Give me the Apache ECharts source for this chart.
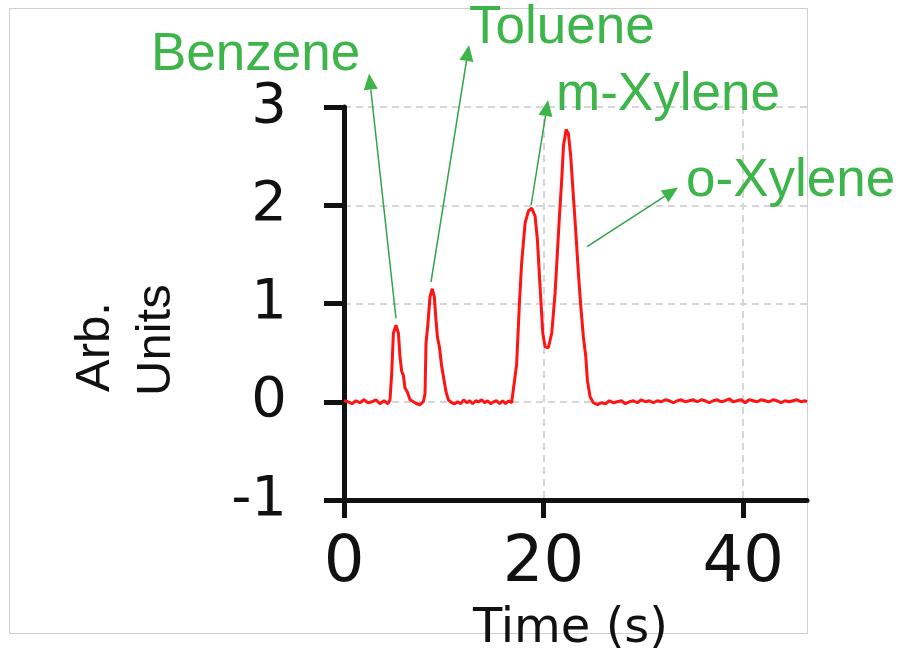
<!DOCTYPE html>
<html>
<head>
<meta charset="utf-8">
<script src="https://cdn.jsdelivr.net/npm/echarts@6/dist/echarts.min.js"></script>
<style>
  html, body { margin: 0; padding: 0; background: #ffffff; }
  #chart { width: 909px; height: 662px; }
</style>
</head>
<body>
<div id="chart"></div>
<script>
// time axis (s) and detector signal (arb. units)
const timeS = [
  0, 0.4, 0.8, 1.2, 1.6, 2.0, 2.4, 2.8, 3.2, 3.6, 4.0, 4.4,
  4.61, 4.78, 4.95, 5.21, 5.45, 5.61, 5.78, 5.95, 6.11, 6.35, 6.62, 6.95, 7.28, 7.62, 7.95,
  8.12, 8.22, 8.39, 8.62, 8.85, 9.05, 9.22, 9.36, 9.56, 9.79, 9.96, 10.23, 10.46, 10.79,
  11.1, 11.4, 11.7, 12.0, 12.3, 12.6, 12.9, 13.2, 13.5, 13.8, 14.1, 14.4, 14.7, 15.0,
  15.3, 15.6, 15.9, 16.2, 16.5, 16.8,
  17.0, 17.3, 17.58, 17.8, 18.15, 18.48, 18.8, 19.15, 19.38, 19.65, 19.92, 20.15, 20.48,
  20.82, 21.15, 21.38, 21.59, 21.82, 21.99, 22.26, 22.49, 22.72, 22.99, 23.26, 23.49,
  23.73, 23.99, 24.23, 24.39, 24.66, 24.99,
  25.4, 25.8, 26.2, 26.6, 27.0, 27.4, 27.8, 28.2, 28.6, 29.0, 29.4, 29.8, 30.2, 30.6,
  31.0, 31.4, 31.8, 32.2, 32.6, 33.0, 33.4, 33.8, 34.2, 34.6, 35.0, 35.4, 35.8, 36.2,
  36.6, 37.0, 37.4, 37.8, 38.2, 38.6, 39.0, 39.4, 39.8, 40.2, 40.6, 41.0, 41.4, 41.8,
  42.2, 42.6, 43.0, 43.4, 43.8, 44.2, 44.6, 45.0, 45.4, 45.8, 46.2, 46.4
];
const signal = [
  0.01, 0.0, -0.02, 0.01, -0.01, 0.02, -0.01, 0.0, 0.02, -0.02, 0.01, -0.02,
  0.02, 0.29, 0.7, 0.78, 0.7, 0.46, 0.31, 0.27, 0.14, 0.1, 0.02, 0.0, -0.02, -0.03, 0.0,
  0.08, 0.6, 0.77, 1.07, 1.15, 1.07, 0.83, 0.66, 0.56, 0.36, 0.26, 0.1, 0.02, -0.01,
  -0.02, 0.0, -0.02, 0.02, -0.01, 0.01, -0.02, 0.01, 0.0, 0.02, -0.01, 0.01, -0.02, 0.0,
  0.01, -0.02, 0.01, -0.02, 0.01, -0.01,
  0.0, 0.38, 1.0, 1.41, 1.82, 1.94, 1.97, 1.89, 1.65, 1.17, 0.7, 0.56, 0.55,
  0.7, 1.1, 1.51, 1.89, 2.26, 2.6, 2.77, 2.73, 2.5, 2.09, 1.68, 1.31,
  0.97, 0.66, 0.46, 0.22, 0.05, -0.01,
  -0.03, -0.01, -0.02, 0.01, -0.01, 0.0, 0.01, -0.02, 0.0, 0.01, -0.01, 0.02, 0.0, 0.01,
  -0.01, 0.01, 0.0, 0.02, 0.01, -0.01, 0.01, 0.02, 0.0, 0.01, 0.02, 0.0, 0.02, 0.01,
  -0.01, 0.01, 0.02, 0.0, 0.01, 0.03, 0.0, 0.01, 0.02, -0.01, 0.02, 0.01, 0.0, 0.02,
  0.01, 0.0, 0.02, 0.01, -0.01, 0.01, 0.0, 0.01, 0.02, 0.0, 0.01, 0.0
];
const xTicks = [0, 20, 40];
const yTicks = [-1, 0, 1, 2, 3];

// peak labels: [name, tail (on the trace), head (near the label)] in data units
const peakNames = ['Benzene', 'Toluene', 'm-Xylene', 'o-Xylene'];
const arrowTails = [[5.21, 0.85], [8.72, 1.22], [18.75, 2.0], [24.36, 1.58]];
const arrowHeads = [[2.51, 3.34], [12.53, 3.63], [20.45, 3.07], [33.48, 2.18]];
// label anchors in px (left edge, vertical middle)
const labelPos = [[151, 55], [469, 28], [556, 95], [686, 181]];

const GREEN = '#3db54a';
const ARROW = '#34a24a';

const chart = echarts.init(document.getElementById('chart'));

chart.setOption({
  animation: false,
  backgroundColor: '#ffffff',
  grid: { left: 344, right: 102, top: 107, bottom: 162 },
  xAxis: {
    type: 'value',
    min: 0,
    max: 46.4,
    interval: 20,
    name: 'Time (s)',
    nameLocation: 'middle',
    nameGap: 106,
    nameTextStyle: { color: '#111', fontFamily: 'DejaVu Sans', fontSize: 48, padding: [0, 10, 0, 0] },
    axisLine: { onZero: false, lineStyle: { color: '#111', width: 5 } },
    axisTick: { length: 18, customValues: xTicks, lineStyle: { color: '#111', width: 5 } },
    axisLabel: {
      color: '#111', fontFamily: 'DejaVu Sans', fontSize: 64, margin: 32,
      customValues: xTicks
    },
    splitLine: { show: true, lineStyle: { color: '#d6d6d6', width: 2, type: [7, 5] } }
  },
  yAxis: {
    type: 'value',
    min: -1,
    max: 3,
    interval: 1,
    axisLine: { show: true, onZero: false, lineStyle: { color: '#111', width: 5 } },
    axisTick: { show: true, length: 20, lineStyle: { color: '#111', width: 5 } },
    axisLabel: {
      color: '#111', fontFamily: 'DejaVu Sans', fontSize: 56, margin: 57,
      formatter: (v) => (yTicks.includes(v) ? String(v) : '')
    },
    splitLine: { show: true, lineStyle: { color: '#d6d6d6', width: 2, type: [7, 5] } }
  },
  series: [
    {
      type: 'line',
      data: timeS.map((t, i) => [t, signal[i]]),
      showSymbol: false,
      clip: false,
      lineStyle: { color: '#ff1414', width: 3 },
      z: 3
    }
  ]
});

function arrowGraphics(tail, head) {
  const p0 = chart.convertToPixel({ gridIndex: 0 }, tail);
  const p1 = chart.convertToPixel({ gridIndex: 0 }, head);
  const dx = p1[0] - p0[0];
  const dy = p1[1] - p0[1];
  const len = Math.sqrt(dx * dx + dy * dy);
  const ux = dx / len;
  const uy = dy / len;
  const hl = 16;
  const hw = 7;
  const bx = p1[0] - ux * hl;
  const by = p1[1] - uy * hl;
  return [
    {
      type: 'line',
      shape: { x1: p0[0], y1: p0[1], x2: bx, y2: by },
      style: { stroke: ARROW, lineWidth: 1.5 },
      z: 10
    },
    {
      type: 'polygon',
      shape: { points: [p1, [bx - uy * hw, by + ux * hw], [bx + uy * hw, by - ux * hw]] },
      style: { fill: GREEN },
      z: 10
    }
  ];
}

const graphics = [
  {
    type: 'rect',
    shape: { x: 9.5, y: 8.5, width: 798, height: 625 },
    style: { fill: null, stroke: '#cfcfcf', lineWidth: 1 },
    z: -10
  },
  {
    type: 'text', x: 95, y: 392, rotation: Math.PI / 2,
    style: { text: 'Arb.', fill: '#111', font: '49px "Liberation Sans"', textAlign: 'left', textVerticalAlign: 'middle' }
  },
  {
    type: 'text', x: 156, y: 396, rotation: Math.PI / 2,
    style: { text: 'Units', fill: '#111', font: '49px "Liberation Sans"', textAlign: 'left', textVerticalAlign: 'middle' }
  }
];

peakNames.forEach((name, i) => {
  graphics.push({
    type: 'text',
    x: labelPos[i][0],
    y: labelPos[i][1],
    style: { text: name, fill: GREEN, font: '53px "Liberation Sans"', textAlign: 'left', textVerticalAlign: 'middle' },
    z: 10
  });
  arrowGraphics(arrowTails[i], arrowHeads[i]).forEach((g) => graphics.push(g));
});

chart.setOption({ graphic: graphics });
</script>
</body>
</html>
